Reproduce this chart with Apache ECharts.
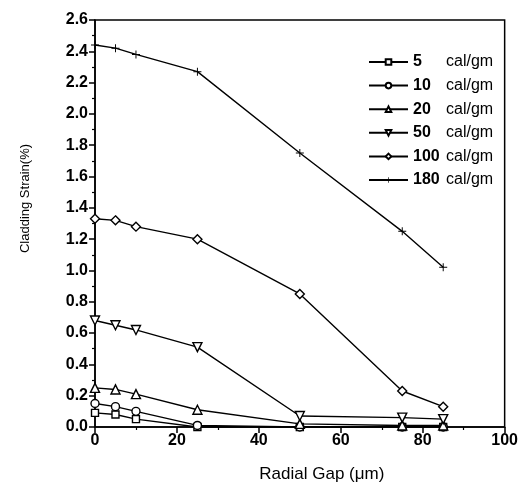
<!DOCTYPE html>
<html>
<head>
<meta charset="utf-8">
<script src="https://cdn.jsdelivr.net/npm/echarts@6/dist/echarts.min.js"></script>
<style>
  html, body { margin: 0; padding: 0; background: #fff; }
  #chart { width: 521px; height: 488px; }
</style>
</head>
<body>
<div id="chart"></div>
<script>
// Radial gap (µm) at which cladding strain was computed
const gap = [0, 5, 10, 25, 50, 75, 85];

// Cladding strain (%) for each energy deposition
const strain5   = [0.09, 0.08, 0.05, 0.00, 0.00, 0.00, 0.00];
const strain10  = [0.15, 0.13, 0.10, 0.01, 0.00, 0.00, 0.00];
const strain20  = [0.25, 0.24, 0.21, 0.11, 0.02, 0.01, 0.01];
const strain50  = [0.68, 0.65, 0.62, 0.51, 0.07, 0.06, 0.05];
const strain100 = [1.33, 1.32, 1.28, 1.20, 0.85, 0.23, 0.13];
const strain180 = [2.44, 2.42, 2.38, 2.27, 1.75, 1.25, 1.02];

const energyLabels = ['5', '10', '20', '50', '100', '180'];
const yTicks = ['0.0','0.2','0.4','0.6','0.8','1.0','1.2','1.4','1.6','1.8','2.0','2.2','2.4','2.6'];
const xTicks = ['0', '20', '40', '60', '80', '100'];

const seriesValues = [strain5, strain10, strain20, strain50, strain100, strain180];
const markers = [
  { symbol: 'rect', rotate: 0, size: 7 },
  { symbol: 'circle', rotate: 0, size: 8 },
  { symbol: 'triangle', rotate: 0, size: 9 },
  { symbol: 'triangle', rotate: 180, size: 9 },
  { symbol: 'diamond', rotate: 0, size: 9 },
  { symbol: 'path://M-1,-0.12H1V0.12H-1Z M-0.12,-1H0.12V1H-0.12Z', rotate: 0, size: 8 }
];

const series = seriesValues.map((vals, i) => {
  const filled = i === 5;
  return {
    name: energyLabels[i] + ' cal/gm',
    type: 'line',
    data: gap.map((g, k) => [g, vals[k]]),
    symbol: markers[i].symbol,
    symbolRotate: markers[i].rotate,
    symbolSize: markers[i].size,
    showAllSymbol: true,
    lineStyle: { color: '#000', width: 1.4 },
    itemStyle: {
      color: filled ? '#000' : '#fff',
      borderColor: '#000',
      borderWidth: filled ? 0 : 1.4
    },
    z: 2 + i,
    animation: false
  };
});

const chart = echarts.init(document.getElementById('chart'), null, { renderer: 'canvas' });
chart.setOption({
  backgroundColor: '#fff',
  animation: false,
  textStyle: { fontFamily: 'Liberation Sans, Arial, sans-serif', color: '#000' },
  grid: {
    left: 95, right: 12, top: 20, bottom: 61,
    show: true, borderColor: '#000', borderWidth: 1.5, backgroundColor: 'transparent'
  },
  legend: {
    orient: 'vertical',
    left: 363, top: 48,
    itemWidth: 39, itemHeight: 7,
    itemGap: 5.6,
    textStyle: {
      fontSize: 16, color: '#000', lineHeight: 18,
      rich: {
        n: { fontSize: 16, fontWeight: 'bold', width: 33, color: '#000', lineHeight: 18 },
        u: { fontSize: 16, color: '#000', lineHeight: 18 }
      }
    },
    formatter: name => {
      const parts = name.split(' ');
      return '{n|' + parts[0] + '}{u|' + parts[1] + '}';
    },
    data: series.map(s => s.name)
  },
  xAxis: {
    type: 'value',
    min: 0, max: 100, interval: 20,
    name: 'Radial Gap (\u03bcm)',
    nameLocation: 'middle',
    nameGap: 39,
    nameTextStyle: { fontSize: 17, color: '#000', padding: [0, 0, 0, 44] },
    axisLine: { onZero: false, lineStyle: { color: '#000', width: 1.5 } },
    axisTick: { length: 6, lineStyle: { color: '#000', width: 1.5 } },
    minorTick: { show: true, splitNumber: 2, length: 3, lineStyle: { color: '#000', width: 1.2 } },
    splitLine: { show: false },
    axisLabel: {
      fontSize: 16, color: '#000', margin: 6, fontWeight: 'bold',
      formatter: v => xTicks[Math.round(v / 20)]
    }
  },
  yAxis: {
    type: 'value',
    min: 0, max: 2.6, interval: 0.2,
    name: 'Cladding Strain(%)',
    nameLocation: 'middle',
    nameGap: 63,
    nameRotate: 90,
    nameTextStyle: { fontSize: 13, color: '#000', padding: [0, 0, 0, 50] },
    axisLine: { onZero: false, lineStyle: { color: '#000', width: 1.5 } },
    axisTick: { length: 6, lineStyle: { color: '#000', width: 1.5 } },
    minorTick: { show: true, splitNumber: 2, length: 3, lineStyle: { color: '#000', width: 1.2 } },
    splitLine: { show: false },
    axisLabel: {
      fontSize: 16, color: '#000', margin: 7, fontWeight: 'bold',
      formatter: v => yTicks[Math.round(v / 0.2)]
    }
  },
  series: series
});
</script>
</body>
</html>
